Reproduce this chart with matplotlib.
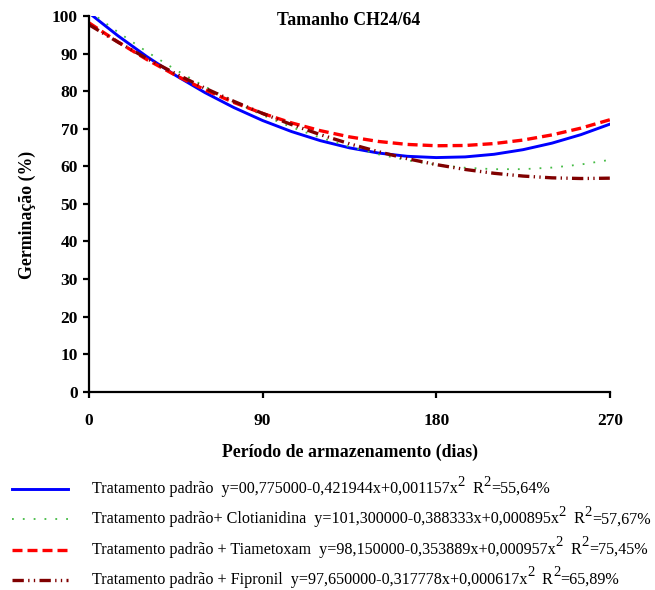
import matplotlib
matplotlib.use('Agg')
import matplotlib.pyplot as plt
from matplotlib.lines import Line2D

plt.rcParams['font.family'] = ['Liberation Serif', 'DejaVu Serif']

# storage period (days) and germination (%)
dias = [0, 15, 30, 45, 60, 75, 90, 105, 120, 135, 150, 165, 180, 195, 210, 225, 240, 255, 270]
padrao = [100.78, 94.71, 89.16, 84.13, 79.62, 75.64, 72.17, 69.23, 66.80, 64.90,
          63.52, 62.65, 62.31, 62.49, 63.19, 64.41, 66.15, 68.41, 71.20]
clotianidina = [101.30, 95.68, 90.46, 85.64, 81.22, 77.21, 73.60, 70.39, 67.59, 65.19,
                63.19, 61.59, 60.40, 59.61, 59.22, 59.23, 59.65, 60.47, 61.70]
tiametoxam = [98.15, 93.06, 88.39, 84.16, 80.36, 76.99, 74.05, 71.54, 69.46, 67.82,
              66.60, 65.81, 65.46, 65.53, 66.04, 66.97, 68.34, 70.14, 72.37]
fipronil = [97.65, 93.02, 88.67, 84.60, 80.80, 77.29, 74.05, 71.09, 68.40, 65.99,
            63.87, 62.01, 60.44, 59.15, 58.13, 57.39, 56.92, 56.74, 56.83]

# legend text pieces: (text, superscript?)
labels = [
    [('Tratamento padrão  y=00,775000-0,421944x+0,001157x', False), ('2', True),
     ('  R', False), ('2', True), ('=55,64%', False)],
    [('Tratamento padrão+ Clotianidina  y=101,300000-0,388333x+0,000895x', False), ('2', True),
     ('  R', False), ('2', True), ('=57,67%', False)],
    [('Tratamento padrão + Tiametoxam  y=98,150000-0,353889x+0,000957x', False), ('2', True),
     ('  R', False), ('2', True), ('=75,45%', False)],
    [('Tratamento padrão + Fipronil  y=97,650000-0,317778x+0,000617x', False), ('2', True),
     ('  R', False), ('2', True), ('=65,89%', False)],
]
xticks = [0, 90, 180, 270]
yticks = list(range(0, 101, 10))

styles = [
    dict(color='#0000FF', lw=2.1, ls='-'),
    dict(color='#44BB44', lw=1.3, ls=(0, (1, 5))),
    dict(color='#FF0000', lw=2.4, ls=(0, (3.0, 1.5))),
    dict(color='#800000', lw=2.4, ls=(0, (3.4, 1.3, 0.4, 1.3, 0.4, 1.3))),
]

fig = plt.figure(figsize=(6.55, 5.9), dpi=100)
ax = fig.add_axes([0.136, 0.336, 0.795, 0.637])

series = [padrao, clotianidina, tiametoxam, fipronil]
for vals, st in zip(series, styles):
    ax.plot(dias, vals, **st)

ax.set_xlim(0, 270)
ax.set_ylim(0, 100)
ax.set_xticks(xticks)
ax.set_yticks(yticks)
for s in ['top', 'right']:
    ax.spines[s].set_visible(False)
for s in ['left', 'bottom']:
    ax.spines[s].set_linewidth(1.6)
ax.tick_params(axis='both', width=1.6, length=4, labelsize=12.5)
ax.tick_params(axis='x', pad=11)
ax.tick_params(axis='y', pad=4)
for t in ax.get_xticklabels() + ax.get_yticklabels():
    t.set_fontweight('bold')

fig.text(0.533, 0.966, 'Tamanho CH24/64', ha='center', va='center',
         fontsize=12.8, fontweight='bold')
fig.text(0.534, 0.234, 'Período de armazenamento (dias)', ha='center', va='center',
         fontsize=12.8, fontweight='bold')
fig.text(0.041, 0.636, 'Germinação (%)', ha='center', va='center',
         rotation=90, fontsize=12.8, fontweight='bold')

# legend drawn by hand below the axes, superscripts placed piece by piece
renderer = fig.canvas.get_renderer()
W = fig.get_figwidth() * fig.dpi
H = fig.get_figheight() * fig.dpi
rows_y = [0.171, 0.120, 0.068, 0.017]
for yy, st, pieces in zip(rows_y, styles, labels):
    fig.add_artist(Line2D([0.018, 0.104], [yy, yy], transform=fig.transFigure, **st))
    x = 0.140
    for txt, sup in pieces:
        if sup:
            t = fig.text(x, yy + 7.0 / H, txt, ha='left', va='center', fontsize=10.5)
        else:
            t = fig.text(x, yy, txt, ha='left', va='center', fontsize=11.6)
        bb = t.get_window_extent(renderer)
        x += bb.width / W

fig.savefig('out.png', dpi=100)
